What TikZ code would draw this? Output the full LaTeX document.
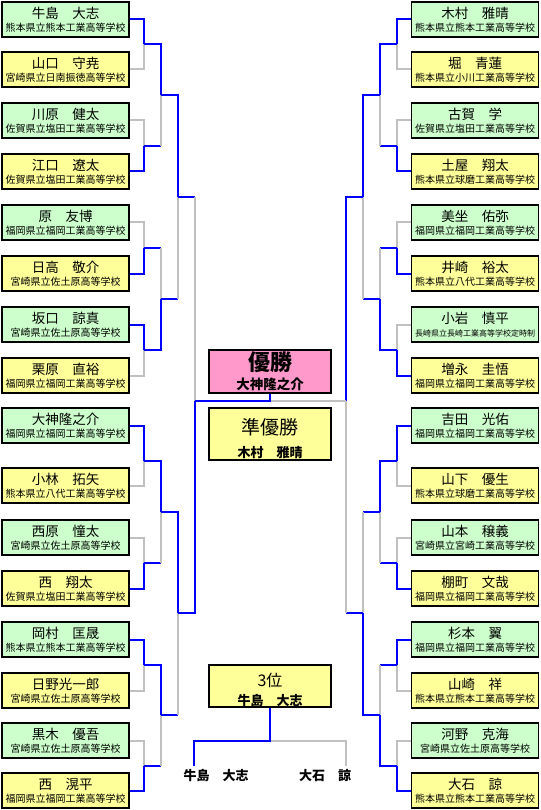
\documentclass[tikz,border=0pt]{standalone}
\usepackage{fontspec}
\setmainfont{Noto Sans CJK JP}
\usetikzlibrary{calc}

\definecolor{boxgreen}{HTML}{CCFFCC}
\definecolor{boxyellow}{HTML}{FFFF99}
\definecolor{boxpink}{HTML}{FF99CC}
\definecolor{linegray}{HTML}{C0C0C0}

% player text: name over school
\newcommand{\pl}[3][10]{{\fontsize{13.5}{13.5}\selectfont #2}\\[-2.5pt]{\fontsize{#1}{#1}\selectfont #3}}
% first round: winner, loser, junction
\newcommand{\bout}[3]{\draw[lose] (#2) -| (#3); \draw[win] (#1) -| (#3);}
% later rounds: winner, loser, junction
\newcommand{\adv}[3]{\draw[win] (#2) -- (#2 -| #3); \draw[lose] (#2 -| #3) -- (#3); \draw[win] (#1) -| (#3);}

\tikzset{
 entry/.style={draw=black,line width=1.4pt,minimum width=127pt,minimum height=35pt,inner sep=0pt,align=center,font=\fontsize{10}{15.5}\selectfont},
 grn/.style={entry,fill=boxgreen},
 ylw/.style={entry,fill=boxyellow},
 result/.style={draw=black,line width=1.4pt,minimum width=122pt,inner sep=0pt,align=center},
 win/.style={draw=blue,line width=2pt},
 lose/.style={draw=linegray,line width=2pt}
}

\begin{document}
\begin{tikzpicture}[x=1pt,y=-1pt]
 \useasboundingbox (0,0) rectangle (540,810);
 % left players
 \node[grn] (L1) at (65.5,19.5) {\pl{牛島　大志}{熊本県立熊本工業高等学校}};
 \node[ylw] (L2) at (65.5,69.5) {\pl{山口　守尭}{宮崎県立日南振徳高等学校}};
 \node[grn] (L3) at (65.5,120.5) {\pl{川原　健太}{佐賀県立塩田工業高等学校}};
 \node[ylw] (L4) at (65.5,171.5) {\pl{江口　遼太}{佐賀県立塩田工業高等学校}};
 \node[grn] (L5) at (65.5,222.5) {\pl{原　友博}{福岡県立福岡工業高等学校}};
 \node[ylw] (L6) at (65.5,273.5) {\pl{日高　敬介}{宮崎県立佐土原高等学校}};
 \node[grn] (L7) at (65.5,324.5) {\pl{坂口　諒真}{宮崎県立佐土原高等学校}};
 \node[ylw] (L8) at (65.5,375.5) {\pl{栗原　直裕}{福岡県立福岡工業高等学校}};
 \node[grn] (L9) at (65.5,425.5) {\pl{大神隆之介}{福岡県立福岡工業高等学校}};
 \node[ylw] (L10) at (65.5,485.5) {\pl{小林　拓矢}{熊本県立八代工業高等学校}};
 \node[grn] (L11) at (65.5,537.5) {\pl{西原　憧太}{宮崎県立佐土原高等学校}};
 \node[ylw] (L12) at (65.5,588.5) {\pl{西　翔太}{佐賀県立塩田工業高等学校}};
 \node[grn] (L13) at (65.5,639.5) {\pl{岡村　匡晟}{熊本県立熊本工業高等学校}};
 \node[ylw] (L14) at (65.5,690.5) {\pl{日野光一郎}{宮崎県立佐土原高等学校}};
 \node[grn] (L15) at (65.5,740.5) {\pl{黒木　優吾}{宮崎県立佐土原高等学校}};
 \node[ylw] (L16) at (65.5,790.5) {\pl{西　滉平}{福岡県立福岡工業高等学校}};
 % right players
 \node[grn] (R1) at (475,19.5) {\pl{木村　雅晴}{熊本県立熊本工業高等学校}};
 \node[ylw] (R2) at (475,69.5) {\pl{堀　青蓮}{熊本県立小川工業高等学校}};
 \node[grn] (R3) at (475,120.5) {\pl{古賀　学}{佐賀県立塩田工業高等学校}};
 \node[ylw] (R4) at (475,171.5) {\pl{土屋　翔太}{熊本県立球磨工業高等学校}};
 \node[grn] (R5) at (475,222.5) {\pl{美坐　佑弥}{福岡県立福岡工業高等学校}};
 \node[ylw] (R6) at (475,273.5) {\pl{井崎　裕太}{熊本県立八代工業高等学校}};
 \node[grn] (R7) at (475,324.5) {\pl[8]{小岩　慎平}{長崎県立長崎工業高等学校定時制}};
 \node[ylw] (R8) at (475,375.5) {\pl{増永　圭悟}{福岡県立福岡工業高等学校}};
 \node[grn] (R9) at (475,425.5) {\pl{吉田　光佑}{福岡県立福岡工業高等学校}};
 \node[ylw] (R10) at (475,485.5) {\pl{山下　優生}{熊本県立球磨工業高等学校}};
 \node[grn] (R11) at (475,537.5) {\pl{山本　穣義}{宮崎県立宮崎工業高等学校}};
 \node[ylw] (R12) at (475,588.5) {\pl{棚町　文哉}{福岡県立福岡工業高等学校}};
 \node[grn] (R13) at (475,639.5) {\pl{杉本　翼}{福岡県立福岡工業高等学校}};
 \node[ylw] (R14) at (475,690.5) {\pl{山崎　祥}{熊本県立熊本工業高等学校}};
 \node[grn] (R15) at (475,740.5) {\pl{河野　克海}{宮崎県立佐土原高等学校}};
 \node[ylw] (R16) at (475,790.5) {\pl{大石　諒}{熊本県立熊本工業高等学校}};
 % results
 \node[result,fill=boxpink,minimum height=43pt,font=\fontsize{10}{19}\selectfont] (champ) at (270,371.5)
   {{\fontsize{22}{22}\selectfont\bfseries 優勝}\\{\fontsize{13.5}{13.5}\selectfont\bfseries 大神隆之介}};
 \node[result,fill=boxyellow,minimum height=52pt,font=\fontsize{10}{23}\selectfont] (second) at (270,434)
   {{\fontsize{19}{19}\selectfont\rule{0pt}{26pt}準優勝}\\{\fontsize{13}{13}\selectfont\bfseries 木村　雅晴}};
 \node[result,fill=boxyellow,minimum height=42pt,font=\fontsize{10}{19}\selectfont] (third) at (270,686)
   {{\fontsize{16}{16}\selectfont\rule{0pt}{21pt}3位}\\{\fontsize{13}{13}\selectfont\bfseries 牛島　大志}};
 \node[font=\fontsize{13}{13}\selectfont\bfseries] (t1) at (216,776) {牛島　大志};
 \node[font=\fontsize{13}{13}\selectfont\bfseries] (t2) at (325,776) {大石　諒};
 % junctions
 \foreach \n/\y in {1/44.5,2/146,3/248,4/350,5/461,6/563,7/665,8/766}
   {\coordinate (la\n) at (144,\y); \coordinate (ra\n) at (397,\y);}
 \foreach \n/\y in {1/95,2/299,3/512,4/715}
   {\coordinate (lb\n) at (161,\y); \coordinate (rb\n) at (380,\y);}
 \coordinate (lc1) at (178,197); \coordinate (lc2) at (178,613);
 \coordinate (rc1) at (363,197); \coordinate (rc2) at (363,613);
 \coordinate (ld) at (195,401); \coordinate (rd) at (346,401);
 \coordinate (fin) at (270,401);
 \coordinate (tp) at (270,741); \coordinate (tl) at (194,766); \coordinate (tr) at (346,766);
 % left bracket
 \bout{L1.east}{L2.east}{la1} \bout{L4.east}{L3.east}{la2}
 \bout{L6.east}{L5.east}{la3} \bout{L7.east}{L8.east}{la4}
 \bout{L9.east}{L10.east}{la5} \bout{L12.east}{L11.east}{la6}
 \bout{L13.east}{L14.east}{la7} \bout{L16.east}{L15.east}{la8}
 \adv{la1}{la2}{lb1} \adv{la4}{la3}{lb2} \adv{la5}{la6}{lb3} \adv{la7}{la8}{lb4}
 \adv{lb1}{lb2}{lc1} \adv{lb3}{lb4}{lc2}
 \adv{lc2}{lc1}{ld}
 % right bracket
 \bout{R1.west}{R2.west}{ra1} \bout{R4.west}{R3.west}{ra2}
 \bout{R6.west}{R5.west}{ra3} \bout{R8.west}{R7.west}{ra4}
 \bout{R9.west}{R10.west}{ra5} \bout{R12.west}{R11.west}{ra6}
 \bout{R13.west}{R14.west}{ra7} \bout{R16.west}{R15.west}{ra8}
 \adv{ra1}{ra2}{rb1} \adv{ra4}{ra3}{rb2} \adv{ra5}{ra6}{rb3} \adv{ra8}{ra7}{rb4}
 \adv{rb1}{rb2}{rc1} \adv{rb4}{rb3}{rc2}
 \adv{rc1}{rc2}{rd}
 % final
 \draw[lose] (rd) -- (fin);
 \draw[win] (ld) -- (fin) -- (champ.south);
 % third place
 \draw[lose] (tp) -| (tr);
 \draw[win] (third.south) -- (tp) -| (tl);
\end{tikzpicture}
\end{document}
